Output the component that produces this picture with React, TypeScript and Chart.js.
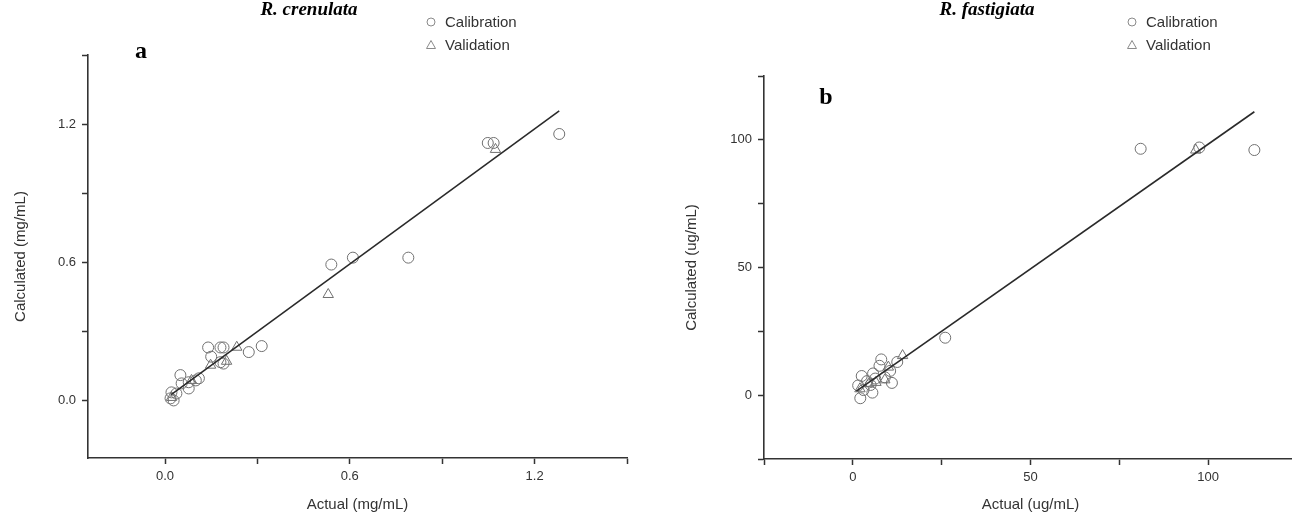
import React, { useEffect, useRef } from "react";
import { Chart, registerables } from "chart.js";

Chart.register(...registerables);

// ---- R. crenulata (panel a) ----
const crenCalActual = [0.018, 0.028, 0.021, 0.037, 0.05, 0.054, 0.077, 0.077, 0.1, 0.11, 0.15, 0.18, 0.19, 0.14, 0.18, 0.19, 0.272, 0.314, 0.54, 0.61, 0.79, 1.048, 1.067, 1.28];
const crenCalCalc = [0.009, 0.0, 0.035, 0.03, 0.11, 0.074, 0.052, 0.079, 0.087, 0.096, 0.19, 0.166, 0.16, 0.23, 0.23, 0.23, 0.21, 0.236, 0.59, 0.62, 0.62, 1.118, 1.118, 1.157];
const crenValActual = [0.021, 0.086, 0.148, 0.2, 0.233, 0.53, 1.073];
const crenValCalc = [0.013, 0.087, 0.153, 0.17, 0.231, 0.46, 1.09];
const crenFitX = [0.02, 1.28];
const crenFitY = [0.025, 1.257];
const crenTickLabels = ["0.0", "0.6", "1.2"];

// ---- R. fastigiata (panel b) ----
const fastCalActual = [1.5, 2.1, 2.5, 3.0, 4.0, 5.0, 5.5, 5.7, 6.3, 7.5, 8.0, 9.0, 10.5, 11.0, 12.5, 26, 81, 97.5, 113];
const fastCalCalc = [3.8, -1.2, 7.5, 2.0, 5.5, 4.0, 1.0, 8.5, 6.5, 11.5, 14.0, 7.0, 9.5, 4.8, 13.0, 22.5, 96.5, 97, 96];
const fastValActual = [2.0, 4.5, 6.5, 9.0, 10.0, 14.0, 96.5];
const fastValCalc = [2.5, 4.5, 5.0, 6.0, 11.0, 15.5, 96];
const fastFitX = [1, 113];
const fastFitY = [1.6, 111];
const fastTickLabels = ["0", "50", "100"];

const seriesNames = ["Calibration", "Validation"];

const SANS = "'Liberation Sans', Arial, sans-serif";
const SERIF = "'Liberation Serif', 'Times New Roman', serif";
const AXIS = "#333333";
const MARK = "#707070";

const zip = (xs: number[], ys: number[]) => xs.map((x, i) => ({ x, y: ys[i] }));

const overlayPlugin = {
  id: "overlay",
  afterDraw(chart: any, _args: any, opts: any) {
    const ctx = chart.ctx;
    ctx.save();
    ctx.fillStyle = "#000";
    ctx.textAlign = "center";
    ctx.textBaseline = "middle";
    ctx.font = `italic bold 19px ${SERIF}`;
    ctx.fillText(opts.title, opts.titleX, opts.titleY);
    ctx.font = `bold 24px ${SERIF}`;
    ctx.fillText(opts.letter, opts.letterX, opts.letterY);
    // legend
    ctx.font = `15px ${SANS}`;
    ctx.textAlign = "left";
    opts.names.forEach((name: string, i: number) => {
      const y = opts.legendY + i * 23;
      const mx = opts.legendX;
      ctx.strokeStyle = "#8a8a8a";
      ctx.lineWidth = 1;
      ctx.beginPath();
      if (i === 0) {
        ctx.arc(mx, y, 4, 0, Math.PI * 2);
      } else {
        ctx.moveTo(mx, y - 4.5);
        ctx.lineTo(mx + 4.5, y + 3.5);
        ctx.lineTo(mx - 4.5, y + 3.5);
        ctx.closePath();
      }
      ctx.stroke();
      ctx.fillStyle = "#333";
      ctx.fillText(name, mx + 14, y + 1);
    });
    ctx.restore();
  },
};

function makeConfig(p: any) {
  const isMajor = (v: number) => {
    const r = v / p.labelStep;
    return Math.abs(r - Math.round(r)) < 1e-6;
  };
  const fmt = (v: number) => {
    if (!isMajor(v)) return "";
    const idx = Math.round(v / p.labelStep);
    return idx >= 0 && idx < p.tickLabels.length ? p.tickLabels[idx] : "";
  };
  const scale = (axis: "x" | "y") => ({
    type: "linear",
    min: p.min,
    max: axis === "x" ? p.xmax : p.ymax,
    ticks: {
      stepSize: p.step,
      includeBounds: false,
      autoSkip: false,
      maxRotation: 0,
      color: AXIS,
      font: { family: SANS, size: 13 },
      padding: axis === "x" ? 5 : 6,
      callback: (v: any) => fmt(Number(v)),
    },
    grid: {
      drawOnChartArea: false,
      drawTicks: true,
      tickLength: 6,
      tickColor: AXIS,
      tickWidth: 1.5,
    },
    border: { display: true, color: AXIS, width: 1.6 },
    title: {
      display: true,
      text: axis === "x" ? p.xTitle : p.yTitle,
      color: AXIS,
      font: { family: SANS, size: 15 },
      padding: axis === "x" ? { top: 0, bottom: 3 } : { top: p.yTitlePad, bottom: 0 },
    },
    afterFit: (s: any) => {
      if (axis === "x") s.height = p.xAxisHeight;
      else s.width = p.yAxisWidth;
    },
  });
  return {
    type: "scatter",
    data: {
      datasets: [
        {
          label: seriesNames[0],
          data: zip(p.calX, p.calY),
          pointStyle: "circle",
          pointRadius: 5.5,
          borderColor: MARK,
          backgroundColor: "rgba(0,0,0,0)",
          borderWidth: 1,
          order: 2,
        },
        {
          label: seriesNames[1],
          data: zip(p.valX, p.valY),
          pointStyle: "triangle",
          pointRadius: 6,
          borderColor: MARK,
          backgroundColor: "rgba(0,0,0,0)",
          borderWidth: 1,
          order: 3,
        },
        {
          label: "fit",
          type: "line",
          data: zip(p.fitX, p.fitY),
          borderColor: "#2a2a2a",
          borderWidth: 1.6,
          pointRadius: 0,
          fill: false,
          order: 1,
        },
      ],
    },
    options: {
      animation: false,
      responsive: false,
      maintainAspectRatio: false,
      layout: { padding: p.padding },
      plugins: {
        legend: { display: false },
        tooltip: { enabled: false },
        overlay: p.overlay,
      },
      scales: { x: scale("x"), y: scale("y") },
    },
    plugins: [overlayPlugin],
  };
}

const panelA = {
  calX: crenCalActual, calY: crenCalCalc, valX: crenValActual, valY: crenValCalc,
  fitX: crenFitX, fitY: crenFitY, tickLabels: crenTickLabels,
  min: -0.25, xmax: 1.5, ymax: 1.5, step: 0.3, labelStep: 0.6,
  xTitle: "Actual (mg/mL)", yTitle: "Calculated (mg/mL)",
  xAxisHeight: 59, yAxisWidth: 88, yTitlePad: 12,
  padding: { left: 0, top: 55, right: 13, bottom: 0 },
  overlay: {
    title: "R. crenulata", titleX: 309, titleY: 10,
    letter: "a", letterX: 141, letterY: 52,
    names: seriesNames, legendX: 431, legendY: 22,
  },
};

const panelB = {
  calX: fastCalActual, calY: fastCalCalc, valX: fastValActual, valY: fastValCalc,
  fitX: fastFitX, fitY: fastFitY, tickLabels: fastTickLabels,
  min: -25, xmax: 125, ymax: 125, step: 25, labelStep: 50,
  xTitle: "Actual (ug/mL)", yTitle: "Calculated (ug/mL)",
  xAxisHeight: 58, yAxisWidth: 124, yTitlePad: 43,
  padding: { left: 0, top: 76, right: 13, bottom: 0 },
  overlay: {
    title: "R. fastigiata", titleX: 347, titleY: 10,
    letter: "b", letterX: 186, letterY: 98,
    names: seriesNames, legendX: 492, legendY: 22,
  },
};

function Panel({ cfg, left, width }: { cfg: any; left: number; width: number }) {
  const ref = useRef<HTMLCanvasElement | null>(null);
  useEffect(() => {
    if (!ref.current) return;
    const chart = new Chart(ref.current, makeConfig(cfg) as any);
    return () => chart.destroy();
  }, [cfg]);
  return (
    <canvas
      ref={ref}
      width={width}
      height={517}
      style={{ position: "absolute", left, top: 0, width, height: 517 }}
    />
  );
}

export default function App() {
  return (
    <div
      style={{
        position: "fixed",
        left: 0,
        top: 0,
        width: 1292,
        height: 517,
        overflow: "hidden",
        background: "#fff",
      }}
    >
      <Panel cfg={panelA} left={0} width={640} />
      <Panel cfg={panelB} left={640} width={670} />
    </div>
  );
}
